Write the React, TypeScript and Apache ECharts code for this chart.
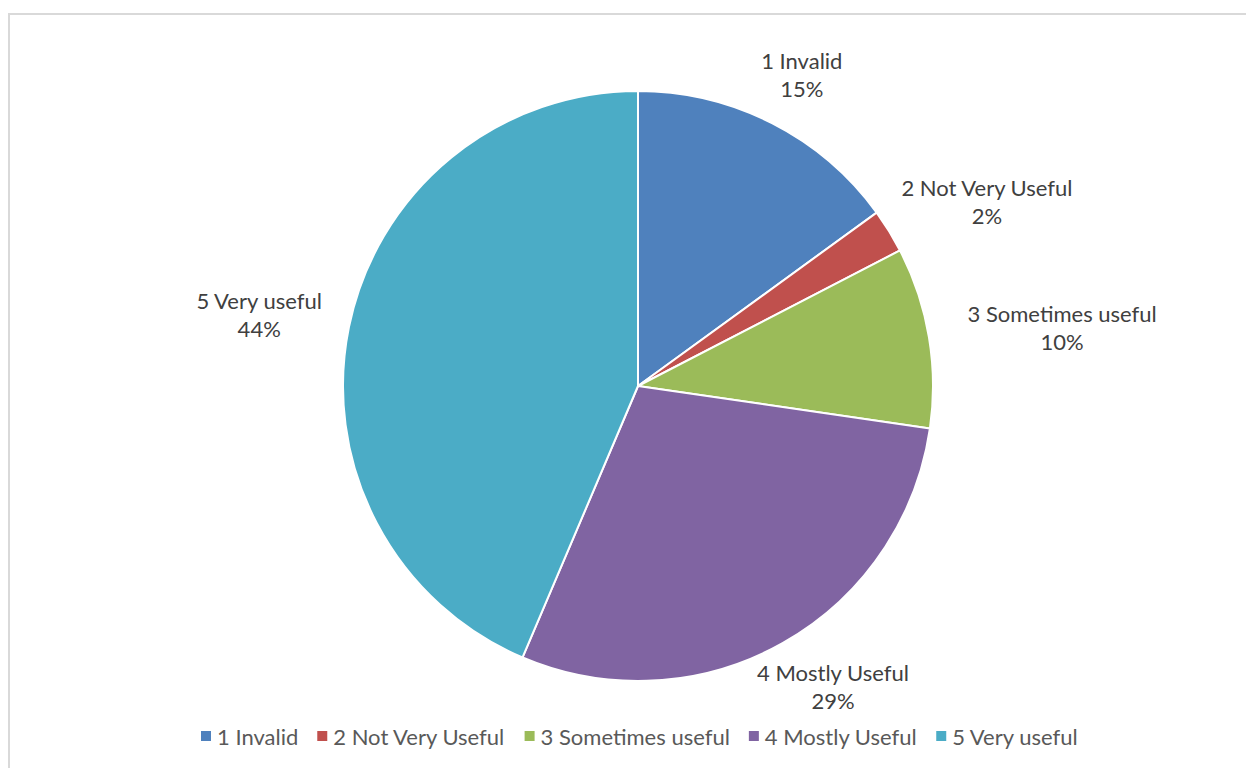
import React, { useEffect, useRef } from "react";
import * as echarts from "echarts";

const categories = ["1 Invalid", "2 Not Very Useful", "3 Sometimes useful", "4 Mostly Useful", "5 Very useful"];
const values = [15.0, 2.4, 9.9, 29.1, 43.6];
const colors = ["#4F81BD", "#C0504D", "#9BBB59", "#8064A2", "#4BACC6"];

// small label nudges (px) applied after the radial placement, to mimic the original's label layout
const labelNudge = [
  [2, 6],
  [27, 14],
  [9, 11],
  [20, -11],
  [3, 6],
];

const CX = 638;
const CY = 386;
const R = 295;
const GAP = 30;

export default function App() {
  const ref = useRef<HTMLDivElement>(null);
  useEffect(() => {
    if (!ref.current) return;
    const chart = echarts.init(ref.current, undefined, { renderer: "svg" });
    const total = values.reduce((a, b) => a + b, 0);
    const mids: number[] = [];
    let acc = 0;
    values.forEach((v) => {
      mids.push(((acc + v / 2) / total) * Math.PI * 2);
      acc += v;
    });
    const font = "Lato, 'Open Sans', sans-serif";
    chart.setOption({
      animation: false,
      backgroundColor: "#ffffff",
      color: colors,
      graphic: [
        {
          type: "rect",
          shape: { x: 9, y: 14, width: 1300, height: 800 },
          style: { fill: "none", stroke: "#d9d9d9", lineWidth: 2 },
        },
      ],
      legend: {
        bottom: 16,
        left: 194,
        icon: "rect",
        itemWidth: 12,
        itemHeight: 12,
        itemGap: 17,
        textStyle: { fontFamily: font, fontSize: 22, color: "#595959" },
        data: categories,
      },
      series: [
        {
          type: "pie",
          center: [CX, CY],
          radius: R,
          startAngle: 90,
          clockwise: true,
          itemStyle: { borderColor: "#ffffff", borderWidth: 2 },
          label: {
            show: true,
            position: "outside",
            formatter: (p: any) => `${p.name}\n${Math.round(p.percent)}%`,
            fontFamily: font,
            fontSize: 22,
            lineHeight: 28,
            color: "#404040",
            align: "center",
          },
          labelLine: { show: false },
          emphasis: { disabled: true },
          labelLayout: (params: any) => {
            const i = params.dataIndex;
            const a = mids[i];
            const dx = Math.sin(a);
            const dy = -Math.cos(a);
            const w = params.labelRect.width / 2;
            const h = params.labelRect.height / 2;
            const ex = Math.abs(dx) > 1e-6 ? w / Math.abs(dx) : Infinity;
            const ey = Math.abs(dy) > 1e-6 ? h / Math.abs(dy) : Infinity;
            const d = R + Math.min(ex, ey) + GAP;
            return {
              x: CX + dx * d + labelNudge[i][0],
              y: CY + dy * d + labelNudge[i][1],
              align: "center",
              verticalAlign: "middle",
            };
          },
          data: categories.map((c, i) => ({ name: c, value: values[i] })),
        },
      ],
    });
    return () => chart.dispose();
  }, []);
  return (
    <div
      ref={ref}
      style={{ position: "fixed", left: 0, top: 0, width: 1246, height: 768 }}
    />
  );
}
